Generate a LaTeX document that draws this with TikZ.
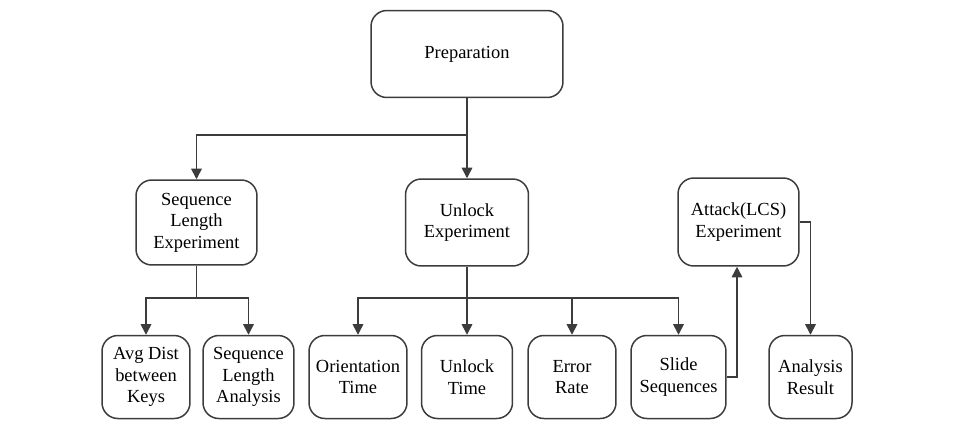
\documentclass[tikz,border=0pt]{standalone}
\usepackage{fontspec}
\setmainfont{Liberation Serif}
\usetikzlibrary{arrows.meta}
\definecolor{boxline}{HTML}{3C3C3C}
\tikzset{
  stepbox/.style={draw=boxline, line width=0.03cm, rounded corners=9pt, align=center,
    inner sep=0pt, font=\rmfamily\fontsize{10.5}{12.2}\selectfont},
  arr/.style={draw=boxline, line width=0.03cm, -{Triangle[length=6pt,width=6pt]}},
  link/.style={draw=boxline, line width=0.03cm}
}
\begin{document}
\begin{tikzpicture}[x=0.02cm,y=-0.02cm]
                    \useasboundingbox (0,0) rectangle (957,444);
                    
                    % Drawing box Preparation
                    \node [stepbox, minimum width=3.84cm, minimum height=1.74cm] (prep) at (467,54) {Preparation};%
                    
                    % Drawing boxes of the middle row
                    \node [stepbox, minimum width=2.42cm, minimum height=1.70cm] (seqexp) at (196.5,222.5) {Sequence\\Length\\Experiment};%
                    \node [stepbox, minimum width=2.46cm, minimum height=1.74cm] (unlockexp) at (467,222.5) {Unlock\\Experiment};%
                    \node [stepbox, minimum width=2.42cm, minimum height=1.76cm] (attackexp) at (738.5,222) {Attack(LCS)\\Experiment};%
                    
                    % Drawing boxes of the bottom row
                    \node [stepbox, minimum width=1.76cm, minimum height=1.66cm] (avgdist) at (146,377) {Avg Dist\\between\\Keys};%
                    \node [stepbox, minimum width=1.82cm, minimum height=1.66cm] (seqana) at (248.5,377) {Sequence\\Length\\Analysis};%
                    \node [stepbox, minimum width=1.96cm, minimum height=1.66cm] (orient) at (358,377) {Orientation\\Time};%
                    \node [stepbox, minimum width=1.82cm, minimum height=1.66cm] (unlocktime) at (467,377) {Unlock\\Time};%
                    \node [stepbox, minimum width=1.76cm, minimum height=1.66cm] (errrate) at (572,377) {Error\\Rate};%
                    \node [stepbox, minimum width=1.90cm, minimum height=1.66cm] (slide) at (678.5,377) {Slide\\Sequences};%
                    \node [stepbox, minimum width=1.66cm, minimum height=1.66cm] (result) at (810.5,377) {Analysis\\Result};%
                    
                    % Split points of the connectors
                    \coordinate (split1) at (467,135);%
                    \coordinate (split2) at (196.5,298);%
                    \coordinate (split3) at (467,298);%
                    
                    % Drawing connectors from Preparation
                    \draw [link] (prep.south) -- (split1);%
                    \draw [arr] (split1) -| (seqexp.north);%
                    \draw [arr] (split1) -- (unlockexp.north);%
                    
                    % Drawing connectors from Sequence Length Experiment
                    \draw [link] (seqexp.south) -- (split2);%
                    \draw [arr] (split2) -| (avgdist.north);%
                    \draw [arr] (split2) -| (seqana.north);%
                    
                    % Drawing connectors from Unlock Experiment
                    \draw [link] (unlockexp.south) -- (split3);%
                    \draw [arr] (split3) -| (orient.north);%
                    \draw [arr] (split3) -- (unlocktime.north);%
                    \draw [arr] (split3) -| (errrate.north);%
                    \draw [arr] (split3) -| (slide.north);%
                    
                    % Drawing connectors through Attack(LCS) Experiment
                    \draw [arr] (slide.east) -| ([xshift=-0.03cm]attackexp.south);%
                    \draw [arr] (attackexp.east) -| (result.north);%
\end{tikzpicture}
\end{document}
